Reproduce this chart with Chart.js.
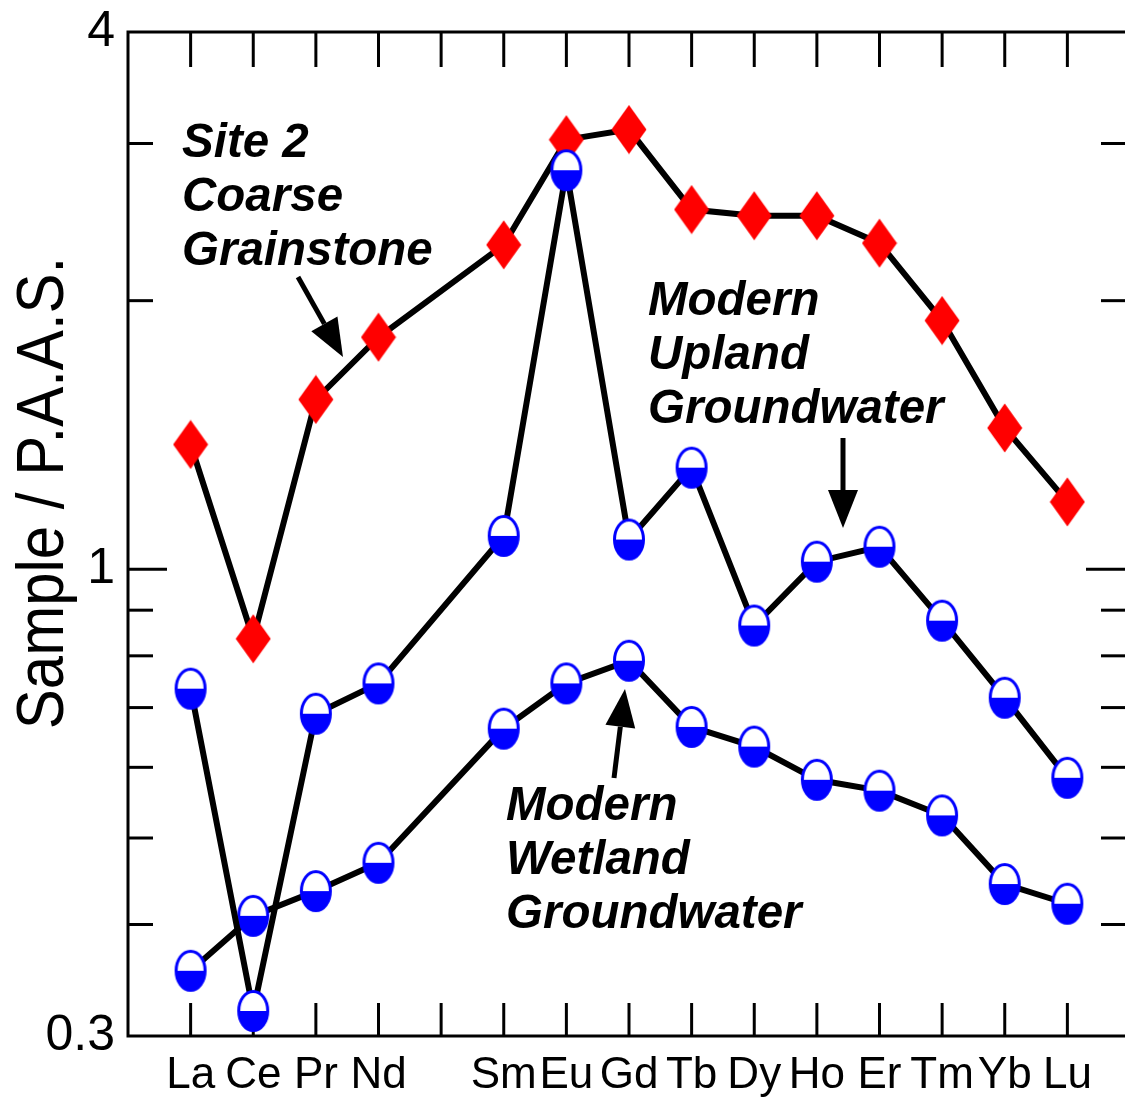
<!DOCTYPE html>
<html>
<head>
<meta charset="utf-8">
<script src="https://cdn.jsdelivr.net/npm/chart.js@4.4.1/dist/chart.umd.min.js"></script>
<style>
  html, body { margin: 0; padding: 0; background: #fff; overflow: hidden; }
  canvas { display: block; }
</style>
</head>
<body>
<canvas id="reeChart" width="1131" height="1099"></canvas>
<script>
'use strict';

// Rare earth elements (Pm slot kept empty)
const ELEMENTS = ['La', 'Ce', 'Pr', 'Nd', '', 'Sm', 'Eu', 'Gd', 'Tb', 'Dy', 'Ho', 'Er', 'Tm', 'Yb', 'Lu'];

// Sample / P.A.A.S. ratios
const SITE2_GRAINSTONE = [1.38, 0.836, 1.55, 1.82, null, 2.31, 3.03, 3.11, 2.53, 2.49, 2.49, 2.32, 1.90, 1.44, 1.19];
const UPLAND_WATER     = [0.735, 0.320, 0.689, 0.745, null, 1.09, 2.80, 1.08, 1.30, 0.865, 1.02, 1.06, 0.876, 0.718, 0.584];
const WETLAND_WATER    = [0.355, 0.409, 0.436, 0.469, null, 0.663, 0.745, 0.790, 0.666, 0.633, 0.581, 0.565, 0.530, 0.444, 0.422];

const Y_LABELED = [0.3, 1, 4];
const Y_MINOR   = [0.4, 0.5, 0.6, 0.7, 0.8, 0.9, 2, 3];

const FONT = '"Liberation Sans", Arial, sans-serif';
const BLUE = '#0000ff';
const RED  = '#ff0000';

// ── marker images ──
function makeDiamond() {
  const c = document.createElement('canvas');
  c.width = 36; c.height = 50;
  const g = c.getContext('2d');
  g.fillStyle = RED;
  g.beginPath();
  g.moveTo(18, 0.5); g.lineTo(35.5, 25); g.lineTo(18, 49.5); g.lineTo(0.5, 25);
  g.closePath();
  g.fill();
  return c;
}

function makeHalfCircle() {
  const c = document.createElement('canvas');
  c.width = 34; c.height = 44;
  const g = c.getContext('2d');
  const cx = 17, cy = 22, rx = 14.5, ry = 19.5;
  g.fillStyle = '#fff';
  g.beginPath(); g.ellipse(cx, cy, rx, ry, 0, 0, Math.PI * 2); g.fill();
  g.save();
  g.beginPath(); g.rect(0, cy, c.width, c.height); g.clip();
  g.fillStyle = BLUE;
  g.beginPath(); g.ellipse(cx, cy, rx, ry, 0, 0, Math.PI * 2); g.fill();
  g.restore();
  g.strokeStyle = BLUE; g.lineWidth = 3;
  g.beginPath(); g.ellipse(cx, cy, rx, ry, 0, 0, Math.PI * 2); g.stroke();
  return c;
}

const diamondImg = makeDiamond();
const circleImg  = makeHalfCircle();

function makeDataset(label, values, marker, order) {
  return {
    label,
    data: values.map((v, i) => (v == null ? null : { x: i, y: v })).filter(Boolean),
    borderColor: '#000',
    borderWidth: 6,
    tension: 0,
    pointStyle: marker,
    pointRadius: 1,          // image markers ignore the radius, it only has to be > 0
    pointHoverRadius: 1,
    clip: false,
    order,
  };
}

function line(ctx, x1, y1, x2, y2) {
  ctx.beginPath(); ctx.moveTo(x1, y1); ctx.lineTo(x2, y2); ctx.stroke();
}

// no automatic label padding: the frame must sit where the original has it
function noPadding(s) {
  s.paddingLeft = 0; s.paddingRight = 0; s.paddingTop = 0; s.paddingBottom = 0;
}

// frame with inward tick marks on all four sides
const frameTicks = {
  id: 'frameTicks',
  beforeDatasetsDraw(chart) {
    const { ctx, chartArea: a, scales: { x, y } } = chart;
    ctx.save();
    ctx.strokeStyle = '#000';
    ctx.lineWidth = 3;
    ctx.strokeRect(a.left, a.top, a.right - a.left, a.bottom - a.top);
    ELEMENTS.forEach((_, i) => {
      const px = x.getPixelForValue(i);
      line(ctx, px, a.bottom, px, a.bottom - 33);
      line(ctx, px, a.top, px, a.top + 35);
    });
    Y_MINOR.forEach(v => {
      const py = y.getPixelForValue(v);
      line(ctx, a.left, py, a.left + 25, py);
      line(ctx, a.right, py, a.right - 29, py);
    });
    const p1 = y.getPixelForValue(1);
    line(ctx, a.left, p1, a.left + 39, p1);
    line(ctx, a.right, p1, a.right - 44, p1);
    ctx.restore();
  },
};

function arrow(ctx, x1, y1, x2, y2) {
  const ang = Math.atan2(y2 - y1, x2 - x1);
  const headLen = 38, headHalf = 15;
  const bx = x2 - headLen * Math.cos(ang), by = y2 - headLen * Math.sin(ang);
  ctx.lineWidth = 5;
  line(ctx, x1, y1, bx, by);
  ctx.beginPath();
  ctx.moveTo(x2, y2);
  ctx.lineTo(bx + headHalf * Math.sin(ang), by - headHalf * Math.cos(ang));
  ctx.lineTo(bx - headHalf * Math.sin(ang), by + headHalf * Math.cos(ang));
  ctx.closePath();
  ctx.fill();
}

// axis title + annotations
const textLayer = {
  id: 'textLayer',
  afterDraw(chart) {
    const { ctx } = chart;
    ctx.save();
    ctx.fillStyle = '#000';
    ctx.strokeStyle = '#000';

    ctx.save();
    ctx.translate(63, 493);
    ctx.rotate(-Math.PI / 2);
    ctx.scale(1, 1.1);
    ctx.font = `60px ${FONT}`;
    ctx.textAlign = 'center';
    ctx.textBaseline = 'alphabetic';
    ctx.fillText('Sample / P.A.A.S.', 0, 0);
    ctx.restore();

    ctx.font = `italic bold 47.5px ${FONT}`;
    ctx.textAlign = 'left';
    ctx.textBaseline = 'alphabetic';
    const notes = [
      { x: 182, y: 157, lines: ['Site 2', 'Coarse', 'Grainstone'] },
      { x: 648, y: 315, lines: ['Modern', 'Upland', 'Groundwater'] },
      { x: 506, y: 820, lines: ['Modern', 'Wetland', 'Groundwater'] },
    ];
    notes.forEach(n => n.lines.forEach((t, i) => ctx.fillText(t, n.x, n.y + i * 54)));

    arrow(ctx, 298, 277, 343, 357);
    arrow(ctx, 843, 438, 843, 528);
    arrow(ctx, 614, 778, 625, 689);
    ctx.restore();
  },
};

new Chart(document.getElementById('reeChart'), {
  type: 'line',
  data: {
    datasets: [
      makeDataset('Modern Upland Groundwater', UPLAND_WATER, circleImg, 1),
      makeDataset('Modern Wetland Groundwater', WETLAND_WATER, circleImg, 2),
      makeDataset('Site 2 Coarse Grainstone', SITE2_GRAINSTONE, diamondImg, 3),
    ],
  },
  options: {
    responsive: false,
    animation: false,
    layout: { autoPadding: false, padding: { top: 32, right: 1, left: 0, bottom: 0 } },
    plugins: { legend: { display: false }, tooltip: { enabled: false } },
    scales: {
      x: {
        type: 'linear',
        min: -1,
        max: 15,
        grid: { display: false },
        border: { display: false },
        afterBuildTicks: s => { s.ticks = ELEMENTS.map((_, i) => ({ value: i })); },
        afterFit: s => { s.height = 63; noPadding(s); },
        ticks: {
          autoSkip: false,
          maxRotation: 0,
          padding: 5,
          color: '#000',
          font: { family: FONT, size: 44 },
          callback: v => ELEMENTS[v] ?? '',
        },
      },
      y: {
        type: 'logarithmic',
        min: 0.3,
        max: 4,
        grid: { display: false },
        border: { display: false },
        afterBuildTicks: s => { s.ticks = Y_LABELED.map(v => ({ value: v })); },
        afterFit: s => { s.width = 128; noPadding(s); },
        ticks: {
          padding: 5,
          color: '#000',
          font: { family: FONT, size: 50 },
          callback: v => String(v),
        },
      },
    },
  },
  plugins: [frameTicks, textLayer],
});
</script>
</body>
</html>
